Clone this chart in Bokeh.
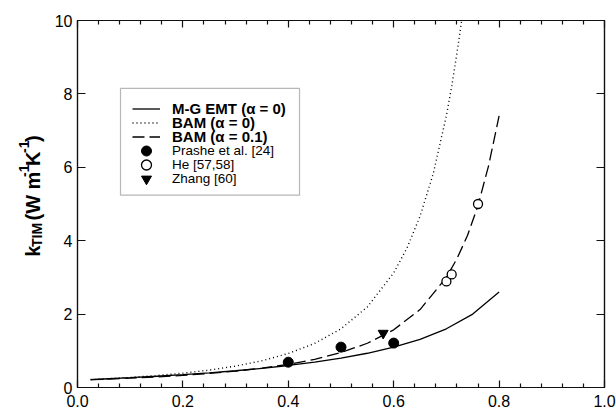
import math
from bokeh.plotting import figure
from bokeh.layouts import row
from bokeh.models import (Range1d, LinearAxis, FixedTicker, Legend, LegendItem,
                          BoxAnnotation)
from bokeh.core.properties import value
from bokeh.embed import file_html
from bokeh.resources import INLINE

# ---------------- data ----------------
mg_x = [0.025, 0.05, 0.10, 0.15, 0.20, 0.25, 0.30, 0.35, 0.40, 0.45, 0.50,
        0.55, 0.60, 0.65, 0.70, 0.75, 0.80]
mg_y = [0.215, 0.232, 0.267, 0.306, 0.350, 0.400, 0.457, 0.523, 0.600, 0.691,
        0.800, 0.933, 1.100, 1.314, 1.600, 2.000, 2.600]

bam0_x = [0.025, 0.05, 0.10, 0.15, 0.20, 0.25, 0.30, 0.35, 0.40, 0.45, 0.50,
          0.55, 0.60, 0.625, 0.65, 0.675, 0.70, 0.71, 0.72, 0.729]
bam0_y = [0.216, 0.233, 0.274, 0.326, 0.391, 0.474, 0.583, 0.728, 0.926, 1.202,
          1.600, 2.195, 3.125, 3.793, 4.665, 5.826, 7.407, 8.200, 9.110, 10.0]

bam1_x = [0.025, 0.05, 0.10, 0.15, 0.20, 0.25, 0.30, 0.35, 0.40, 0.45, 0.50,
          0.55, 0.60, 0.65, 0.70, 0.72, 0.74, 0.76, 0.78, 0.80]
bam1_y = [0.212, 0.224, 0.254, 0.288, 0.330, 0.382, 0.446, 0.527, 0.631, 0.768,
          0.951, 1.206, 1.572, 2.123, 3.000, 3.510, 4.140, 4.960, 6.040, 7.400]

prashe_x = [0.40, 0.50, 0.60]
prashe_y = [0.69, 1.10, 1.21]
he_x = [0.70, 0.71, 0.76]
he_y = [2.89, 3.08, 5.00]
zhang_x = [0.58]
zhang_y = [1.48]

series_labels = ["M-G EMT (\u03b1 = 0)", "BAM (\u03b1 = 0)", "BAM (\u03b1 = 0.1)",
                 "Prashe et al. [24]", "He [57,58]", "Zhang [60]"]

x_ticks = [0.0, 0.2, 0.4, 0.6, 0.8, 1.0]
x_tick_labels = ["0.0", "0.2", "0.4", "0.6", "0.8", "1.0"]
x_minor = [0.04, 0.08, 0.12, 0.16, 0.24, 0.28, 0.32, 0.36, 0.44, 0.48, 0.52,
           0.56, 0.64, 0.68, 0.72, 0.76, 0.84, 0.88, 0.92, 0.96]
y_ticks = [0, 2, 4, 6, 8, 10]
y_tick_labels = ["0", "2", "4", "6", "8", "10"]

# y-axis title pieces: (text, role)
ytitle_parts = [("k", "main"), ("TIM", "sub"), (" (W m", "main"), ("-1", "sup"),
                ("K", "main"), ("-1", "sup"), (")", "main")]

# ---------------- layout constants ----------------
FONT = "Liberation Sans"
W, H = 616, 412
TITLE_W = 45                      # narrow strip holding the y-axis title
FRAME_BOTTOM = 387                # canvas px of the x axis

# ---------------- main figure ----------------
p = figure(width=W - TITLE_W, height=H, x_range=Range1d(0, 1.0), y_range=Range1d(0, 10),
           output_backend="svg", toolbar_location=None,
           min_border_left=77 - TITLE_W, min_border_right=12, min_border_top=20,
           min_border_bottom=25, background_fill_color="white",
           border_fill_color="white")
p.xgrid.visible = False
p.ygrid.visible = False
p.outline_line_color = "#111111"
p.outline_line_width = 1.2


def style_axis(ax, ticks, labels, minor, tin, show_labels):
    ax.ticker = FixedTicker(ticks=ticks, minor_ticks=minor)
    ax.axis_line_color = "#111111"
    ax.axis_line_width = 1.2
    ax.major_tick_line_color = "#111111"
    ax.major_tick_line_width = 1.2
    ax.major_tick_in = tin
    ax.major_tick_out = 0
    if minor:
        ax.minor_tick_line_color = "#111111"
        ax.minor_tick_line_width = 1.2
        ax.minor_tick_in = 4
        ax.minor_tick_out = 0
    else:
        ax.minor_tick_line_color = None
    ax.major_label_text_font = FONT
    if show_labels:
        ax.major_label_overrides = {t: l for t, l in zip(ticks, labels)}
        ax.major_label_text_font_size = "16px"
        ax.major_label_text_color = "black"
    else:
        # mirrored axis: ticks only, labels not drawn
        ax.major_label_text_font_size = "1px"
        ax.major_label_text_color = None
        ax.major_label_standoff = 0


xb = p.xaxis[0]
style_axis(xb, x_ticks, x_tick_labels, x_minor, 7, True)
xb.major_label_standoff = 7
yl = p.yaxis[0]
style_axis(yl, y_ticks, y_tick_labels, [], 8, True)
yl.major_label_standoff = 5

xt = LinearAxis()
style_axis(xt, x_ticks, x_tick_labels, x_minor, 7, False)
p.add_layout(xt, "above")
yr = LinearAxis()
style_axis(yr, y_ticks, y_tick_labels, [], 8, False)
p.add_layout(yr, "right")

# ---------------- curves and points ----------------
r_mg = p.line(mg_x, mg_y, line_color="black", line_width=1.3)
r_b0 = p.line(bam0_x, bam0_y, line_color="black", line_width=1.4, line_dash="1 3")
r_b1 = p.line(bam1_x, bam1_y, line_color="black", line_width=1.3, line_dash="12 5")
r_pr = p.scatter(prashe_x, prashe_y, marker="circle", size=10,
                 fill_color="black", line_color="black")
r_he = p.scatter(he_x, he_y, marker="circle", size=9, fill_color="white",
                 line_color="black", line_width=1.3)
r_zh = p.scatter(zhang_x, zhang_y, marker="inverted_triangle", size=10,
                 fill_color="black", line_color="black")

# ---------------- legend ----------------
box = BoxAnnotation(left=0.0816, right=0.4213, top=8.15, bottom=5.24,
                    fill_alpha=0, line_color="#111111", line_width=1.2, level="overlay")
p.add_layout(box)

row_centers = [108, 122, 136, 150, 164, 178]   # canvas px of each legend row
renderers = [r_mg, r_b0, r_b1, r_pr, r_he, r_zh]
for i, (lab, r, c) in enumerate(zip(series_labels, renderers, row_centers)):
    leg = Legend(items=[LegendItem(label=lab, renderers=[r])],
                 location=(55, FRAME_BOTTOM - (c + 12.5)),
                 glyph_width=28, glyph_height=25, label_height=14, spacing=0,
                 padding=0, margin=0, label_standoff=12, border_line_color=None,
                 background_fill_alpha=0, label_text_font=FONT,
                 label_text_font_size="15px" if i < 3 else "13.5px",
                 label_text_color="black",
                 label_text_font_style="bold" if i < 3 else "normal")
    p.add_layout(leg)

# ---------------- y-axis title strip ----------------
t = figure(width=TITLE_W, height=H, x_range=Range1d(0, TITLE_W), y_range=Range1d(0, H),
           output_backend="svg", toolbar_location=None, x_axis_type=None,
           y_axis_type=None, min_border=0, outline_line_color=None,
           background_fill_color="white", border_fill_color="white")
t.xgrid.visible = False
t.ygrid.visible = False

CW = {"k": 556, "T": 611, "I": 278, "M": 833, " ": 278, "(": 333, "W": 944,
      "m": 889, "-": 333, "1": 556, "K": 722, ")": 333}
MAIN, SCRIPT = 20, 14


def wid(s, fs):
    return sum(CW[c] for c in s) * fs / 1000.0


total = sum(wid(s, MAIN if k == "main" else SCRIPT) for s, k in ytitle_parts)
pos = 197.5 + total / 2.0  # canvas y where the title starts (its bottom end)
base_x = {"main": 32, "sub": 36.5, "sup": 23}
for s, kind in ytitle_parts:
    fs = MAIN if kind == "main" else SCRIPT
    stripped = s.lstrip(" ")
    pos -= wid(s[:len(s) - len(stripped)], fs)   # leading blank -> plain offset
    t.text(x=[base_x[kind]], y=[H - pos], text=[stripped], angle=math.pi / 2,
           text_font=value(FONT), text_font_style=value("bold"),
           text_font_size=value(f"{fs}px"), text_color="black",
           text_align="left", text_baseline="alphabetic")
    pos -= wid(stripped, fs)

layout = row(t, p, spacing=0)
open("out.html", "w").write(file_html(layout, INLINE))
